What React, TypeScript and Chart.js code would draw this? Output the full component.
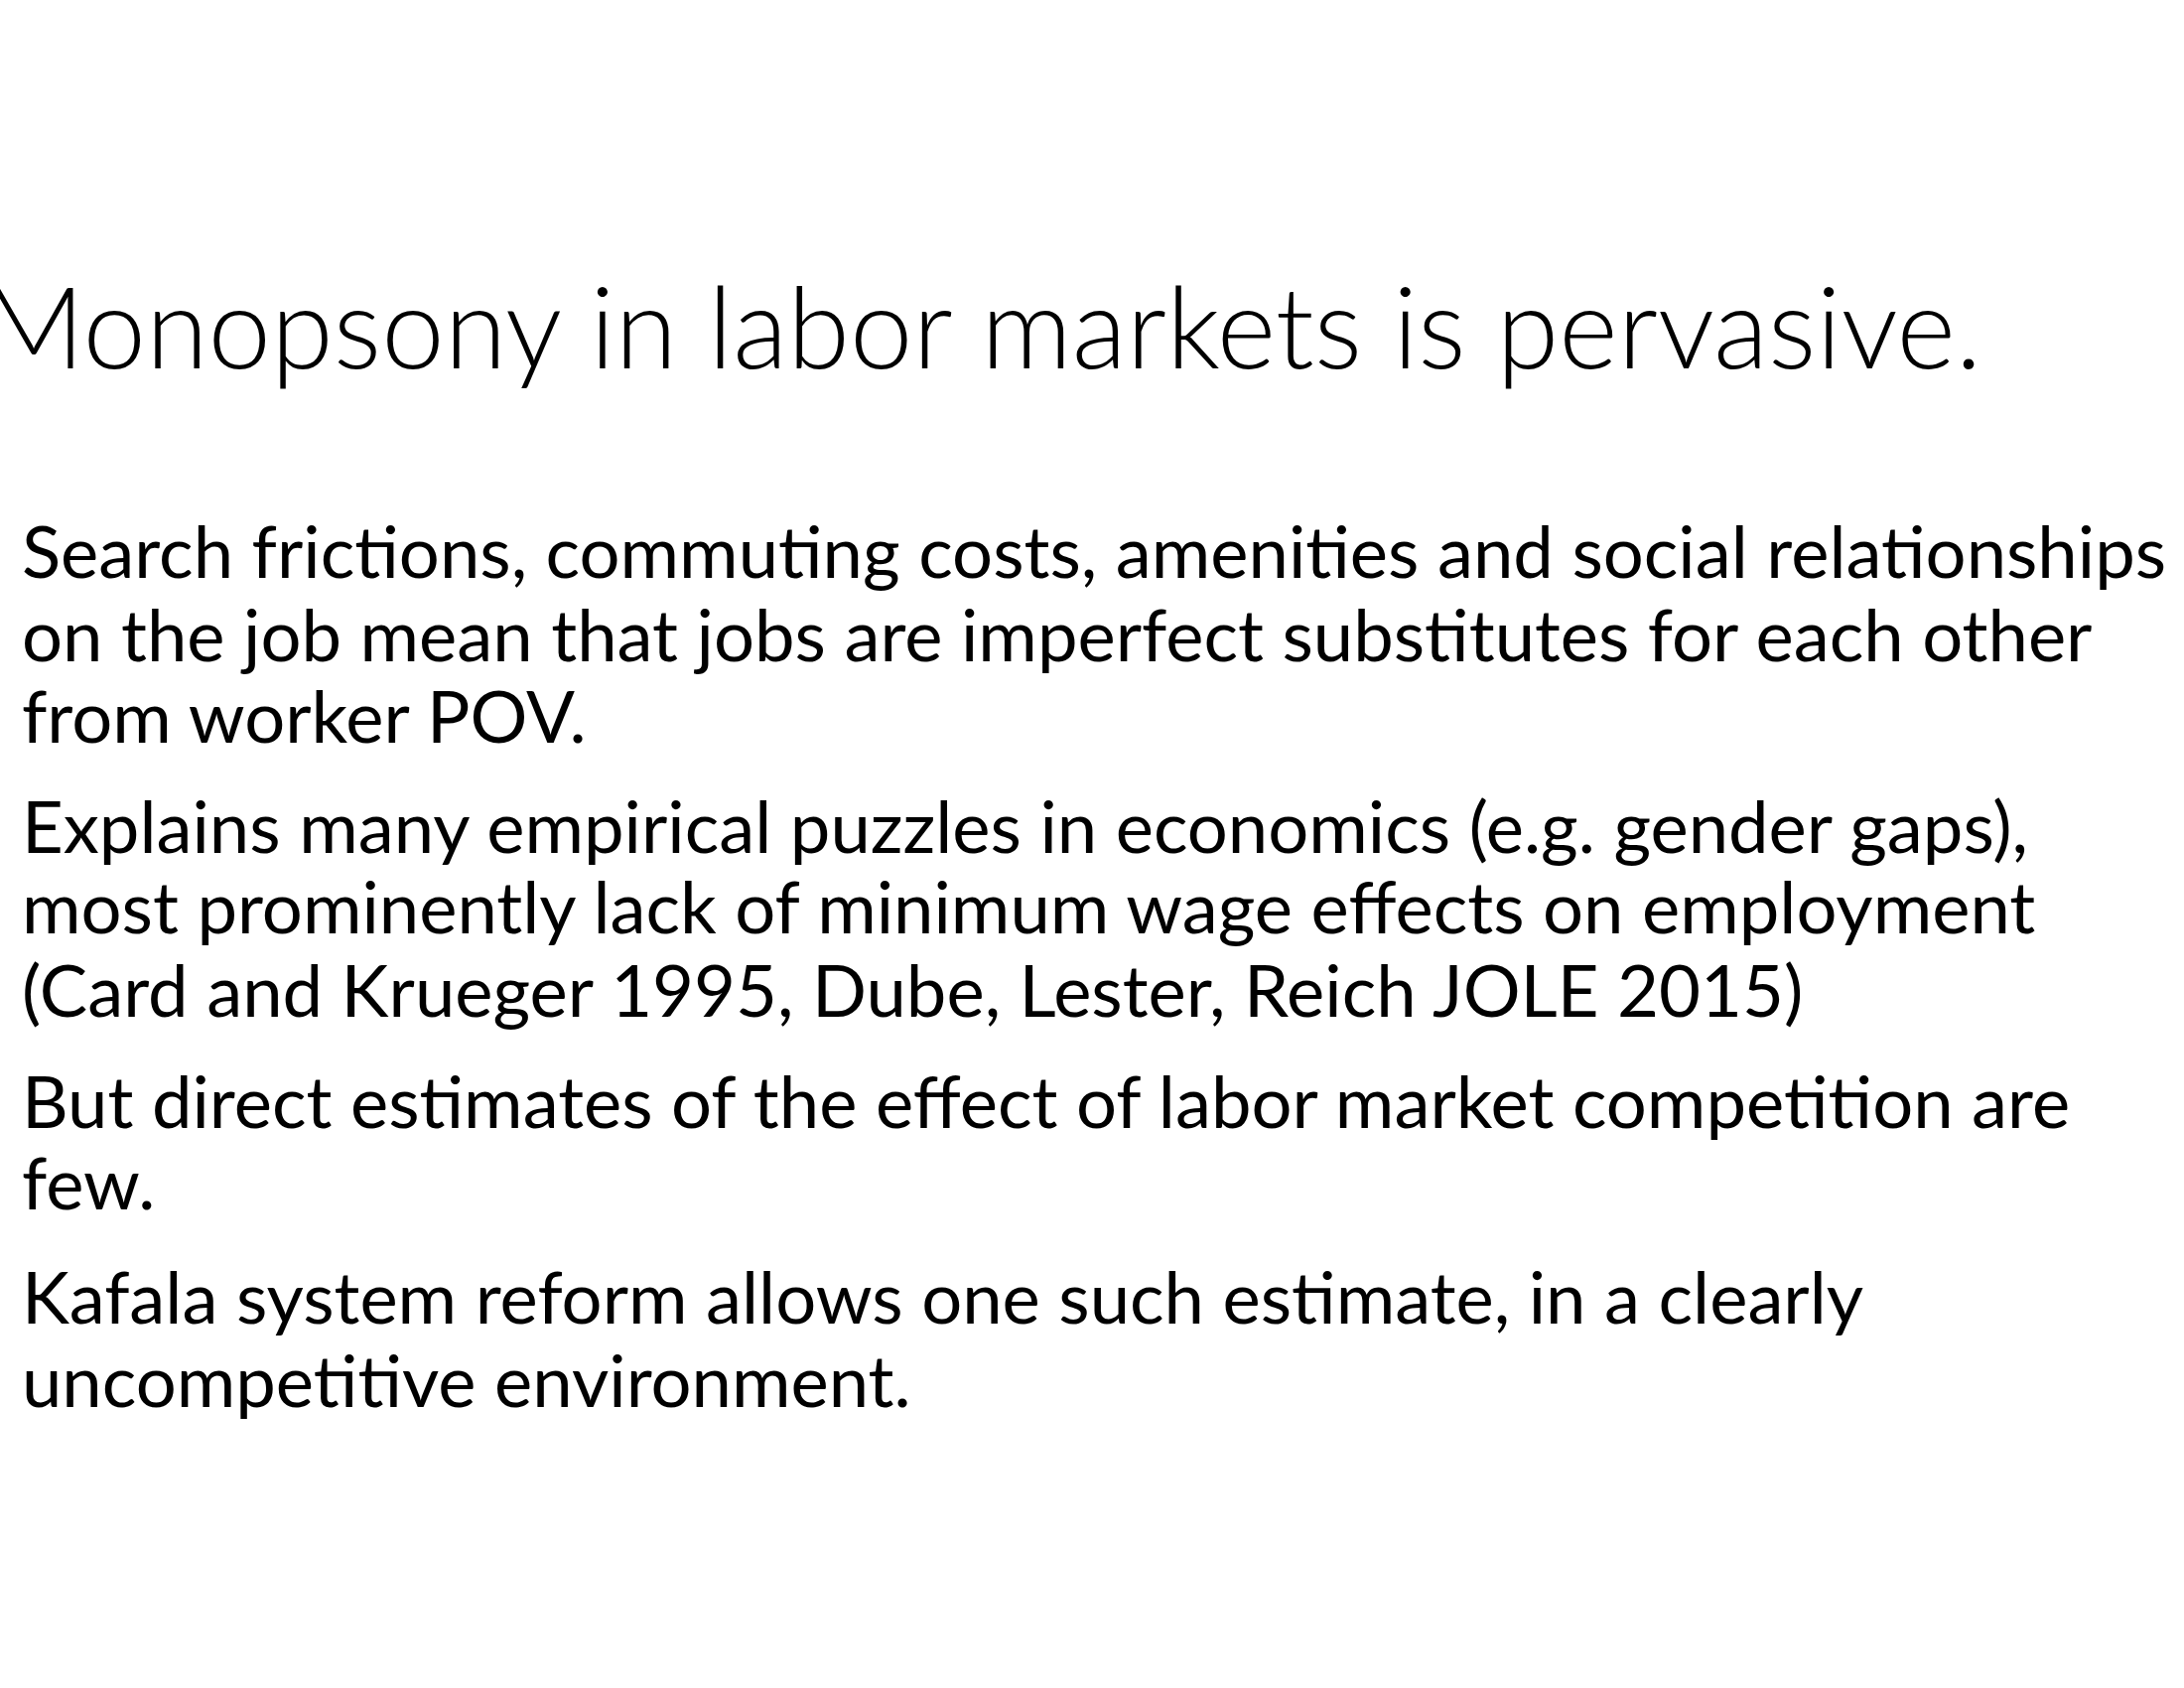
import { useEffect, useRef } from "react"
import { Chart, registerables } from "chart.js"

Chart.register(...registerables)

const title = "Monopsony in labor markets is pervasive."

const bulletLines: string[][] = [
  [
    "Search frictions, commuting costs, amenities and social relationships",
    "on the job mean that jobs are imperfect substitutes for each other",
    "from worker POV.",
  ],
  [
    "Explains many empirical puzzles in economics (e.g. gender gaps),",
    "most prominently lack of minimum wage effects on employment",
    "(Card and Krueger 1995, Dube, Lester, Reich JOLE 2015)",
  ],
  ["But direct estimates of the effect of labor market competition are", "few."],
  ["Kafala system reform allows one such estimate, in a clearly", "uncompetitive environment."],
]

// baselines of each line in page pixels
const baselines: number[][] = [
  [582, 666, 748],
  [859, 940, 1024],
  [1136, 1218],
  [1333, 1417],
]

const BODY_FS = 72.4
const TITLE_FS = 113.8

export default function App() {
  const chartRef = useRef<HTMLCanvasElement>(null)
  const chartInstance = useRef<Chart | null>(null)

  useEffect(() => {
    if (!chartRef.current) return
    if (chartInstance.current) chartInstance.current.destroy()
    const ctx = chartRef.current.getContext("2d")
    if (!ctx) return

    // empty backdrop chart: the slide holds no marks, only text
    chartInstance.current = new Chart(ctx, {
      type: "scatter",
      data: { datasets: [] },
      options: {
        animation: false,
        responsive: false,
        plugins: { legend: { display: false }, tooltip: { enabled: false } },
        scales: { x: { display: false }, y: { display: false } },
      },
    })

    return () => {
      if (chartInstance.current) chartInstance.current.destroy()
    }
  }, [])

  return (
    <div
      style={{
        position: "absolute",
        left: 0,
        top: 0,
        width: 2200,
        height: 1700,
        background: "#fff",
        overflow: "hidden",
        fontFamily: "Lato, 'Open Sans', sans-serif",
        color: "#000",
      }}
    >
      <canvas ref={chartRef} width={2200} height={1700} style={{ position: "absolute", left: 0, top: 0 }} />
      <div
        style={{
          position: "absolute",
          left: -18,
          top: 372 - TITLE_FS * 0.887,
          fontSize: TITLE_FS,
          lineHeight: `${TITLE_FS}px`,
          fontWeight: 300,
          whiteSpace: "nowrap",
        }}
      >
        {title}
      </div>
      {bulletLines.map((lines, i) =>
        lines.map((line, j) => (
          <div
            key={`${i}-${j}`}
            style={{
              position: "absolute",
              left: 22,
              top: baselines[i][j] - BODY_FS * 0.887,
              fontSize: BODY_FS,
              lineHeight: `${BODY_FS}px`,
              whiteSpace: "nowrap",
            }}
          >
            {line}
          </div>
        ))
      )}
    </div>
  )
}
